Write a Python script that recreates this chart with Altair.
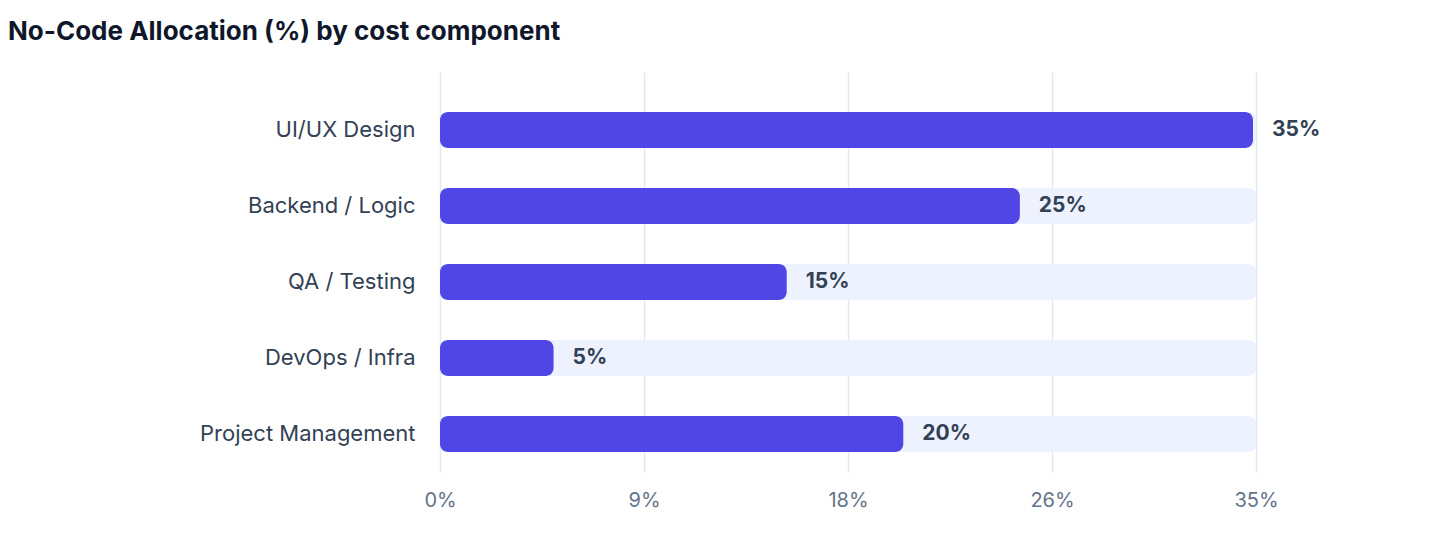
import pandas as pd
import altair as alt

categories = ["UI/UX Design", "Backend / Logic", "QA / Testing", "DevOps / Infra", "Project Management"]
shares = [35, 25, 15, 5, 20]
track_max = 35
tick_values = [0, 8.75, 17.5, 26.25, 35]

df = pd.DataFrame({"component": categories, "share": shares})
df["track"] = track_max
df["label"] = [f"{v}%" for v in shares]

FONT = "Inter"
x_scale = alt.Scale(domain=[0, track_max], nice=False)
x_axis = alt.Axis(
    values=tick_values,
    labelExpr="format(datum.value, '.0f') + '%'",
    domain=False, ticks=False, grid=True, gridColor="#E2E8F0", gridWidth=1.5,
    labelPadding=18, labelFontSize=20, labelColor="#64748B", labelFont=FONT,
    labelAlign="center", labelFlush=False,
)
y_enc = alt.Y(
    "component:N",
    sort=categories,
    title=None,
    scale=alt.Scale(paddingInner=0.526, paddingOuter=0.395, align=0.667),
    axis=alt.Axis(
        domain=False, ticks=False, labelPadding=25, labelFontSize=22,
        labelColor="#334155", labelFont=FONT, labelLimit=420,
        minExtent=432, maxExtent=432,
    ),
)

base = alt.Chart(df)

track = base.mark_bar(color="#EEF2FF", cornerRadius=8, size=36).encode(
    x=alt.X("track:Q", scale=x_scale, title=None, axis=x_axis),
    x2=alt.datum(0),
    y=y_enc,
)

bars = base.mark_bar(color="#4F46E5", cornerRadius=8, size=36, xOffset=-3).encode(
    x=alt.X("share:Q", scale=x_scale, title=None, axis=x_axis),
    x2=alt.datum(0),
    y=y_enc,
)

labels = base.mark_text(
    align="left", baseline="middle", dx=16, font=FONT, fontSize=21,
    fontWeight="bold", color="#334155",
).encode(
    x=alt.X("share:Q", scale=x_scale, title=None, axis=x_axis),
    y=y_enc,
    text="label:N",
)

chart = alt.layer(track, bars, labels).properties(
    width=816,
    height=400,
    padding={"top": 11, "left": 0, "right": 20, "bottom": 10},
    title=alt.TitleParams(
        "No-Code Allocation (%) by cost component",
        anchor="start", font=FONT, fontSize=26, fontWeight="bold",
        color="#0F172A", offset=27,
    ),
).configure_view(stroke=None)

chart.save("out.html", embed_options={"renderer": "svg", "actions": False})
